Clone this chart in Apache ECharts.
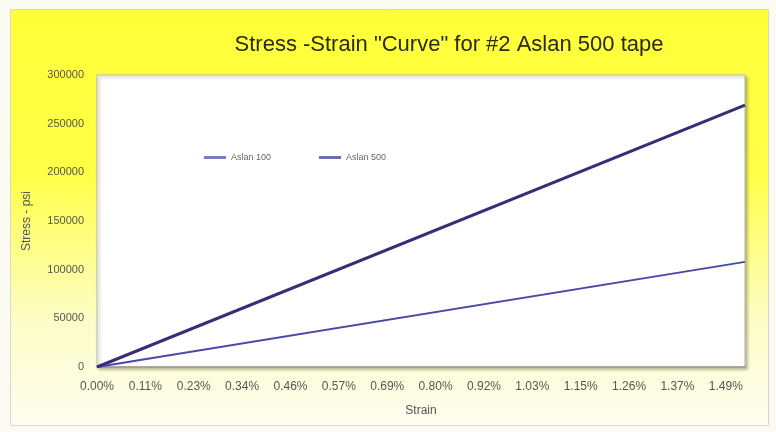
<!DOCTYPE html>
<html>
<head>
<meta charset="utf-8">
<script src="https://cdn.jsdelivr.net/npm/echarts@6/dist/echarts.min.js"></script>
<style>
html,body{margin:0;padding:0;background:#fbfbf3;}
#c{width:776px;height:432px;}
</style>
</head>
<body>
<div id="c"></div>
<script>
// Data
var titleText = 'Stress -Strain "Curve" for #2 Aslan 500 tape';
var seriesNames = ['Aslan 100', 'Aslan 500'];
var strain = [0, 1.535];              // % strain at start and end of the plotted range
var aslan100 = [0, 108000];           // psi
var aslan500 = [0, 269000];           // psi
var xTickLabels = ['0.00%','0.11%','0.23%','0.34%','0.46%','0.57%','0.69%','0.80%','0.92%','1.03%','1.15%','1.26%','1.37%','1.49%'];
var xTickStep = 0.11458;
var yTicks = [0, 50000, 100000, 150000, 200000, 250000, 300000];

var chart = echarts.init(document.getElementById('c'));
function pairs(xs, ys){ return xs.map(function(x,i){ return [x, ys[i]]; }); }

chart.setOption({
  animation: false,
  graphic: [{
    type: 'rect', left: 10, top: 9, z: -10,
    shape: { width: 758, height: 416 },
    style: {
      fill: new echarts.graphic.LinearGradient(0, 0, 0, 1, [
        { offset: 0, color: '#ffff38' },
        { offset: 0.4, color: '#ffff48' },
        { offset: 0.75, color: '#fdfdc8' },
        { offset: 1, color: '#fdfdf0' }
      ]),
      stroke: '#d8d8c8', lineWidth: 1
    }
  }],
  title: {
    text: titleText, left: 444, top: 29, textAlign: 'center',
    textStyle: { fontFamily: 'Liberation Sans', fontSize: 22, fontWeight: 'normal', color: '#2a2a10' }
  },
  legend: {
    data: seriesNames, left: 199, top: 148, itemWidth: 22, itemHeight: 3, itemGap: 48,
    icon: 'rect',
    textStyle: { fontFamily: 'Liberation Sans', fontSize: 9, color: '#666' }
  },
  grid: {
    left: 97, right: 31, top: 75, bottom: 65,
    show: true, backgroundColor: '#ffffff', borderColor: '#b8b8a8', borderWidth: 1,
    shadowColor: 'rgba(120,120,90,0.55)', shadowBlur: 3, shadowOffsetX: 2, shadowOffsetY: 2
  },
  xAxis: {
    type: 'value', min: 0, max: strain[strain.length - 1], interval: xTickStep,
    name: 'Strain', nameLocation: 'middle', nameGap: 38,
    nameTextStyle: { fontFamily: 'Liberation Sans', fontSize: 12, color: '#555' },
    axisLine: { show: true, lineStyle: { color: '#9a9a8a', width: 1.5 } },
    axisTick: { show: false },
    splitLine: { show: false },
    axisLabel: {
      showMaxLabel: false, margin: 14,
      fontFamily: 'Liberation Sans', fontSize: 12, color: '#555',
      formatter: function (v) { var i = Math.round(v / xTickStep); return xTickLabels[i] || ''; }
    }
  },
  yAxis: {
    type: 'value', min: yTicks[0], max: yTicks[yTicks.length - 1], interval: yTicks[1] - yTicks[0],
    name: 'Stress - psi', nameLocation: 'middle', nameGap: 64,
    nameTextStyle: { fontFamily: 'Liberation Sans', fontSize: 12, color: '#555' },
    axisLine: { show: false },
    axisTick: { show: false },
    splitLine: { show: false },
    axisLabel: {
      margin: 13, fontFamily: 'Liberation Sans', fontSize: 11, color: '#555',
      formatter: function (v) { return String(v); }
    }
  },
  series: [
    {
      name: seriesNames[0], type: 'line', showSymbol: false, symbol: 'none',
      data: pairs(strain, aslan100),
      lineStyle: { color: '#4848a8', width: 2 }, itemStyle: { color: '#7c7cc4' }
    },
    {
      name: seriesNames[1], type: 'line', showSymbol: false, symbol: 'none',
      data: pairs(strain, aslan500),
      lineStyle: { color: '#3a2c78', width: 3 }, itemStyle: { color: '#6c6cb4' }
    }
  ]
});
</script>
</body>
</html>
